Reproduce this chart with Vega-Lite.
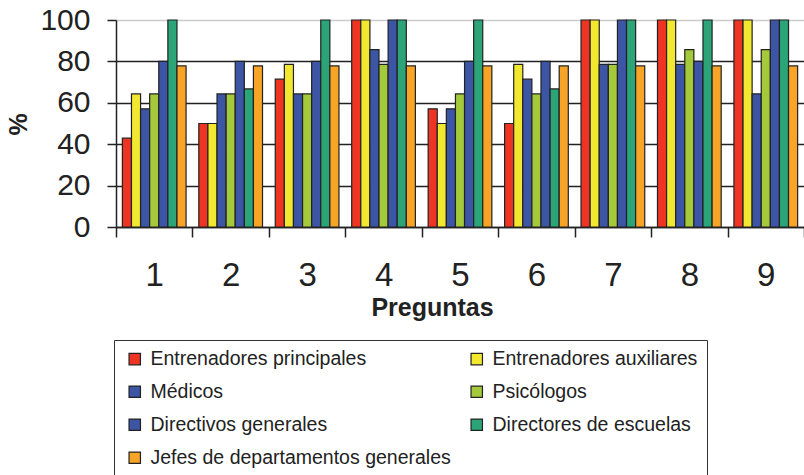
{
  "$schema": "https://vega.github.io/schema/vega-lite/v6.json",
  "width": 688,
  "height": 207,
  "autosize": {"type": "none"},
  "padding": {"left": 116, "top": 20, "right": 0, "bottom": 248},
  "background": "white",
  "config": {
    "view": {"stroke": null},
    "font": "Liberation Sans"
  },
  "data": {
    "values": [
      {"q": "1", "g": "Entrenadores principales", "v": 42.9},
      {"q": "1", "g": "Entrenadores auxiliares", "v": 64.3},
      {"q": "1", "g": "Médicos", "v": 57.1},
      {"q": "1", "g": "Psicólogos", "v": 64.3},
      {"q": "1", "g": "Directivos generales", "v": 80},
      {"q": "1", "g": "Directores de escuelas", "v": 100},
      {"q": "1", "g": "Jefes de departamentos generales", "v": 77.8},
      {"q": "2", "g": "Entrenadores principales", "v": 50},
      {"q": "2", "g": "Entrenadores auxiliares", "v": 50},
      {"q": "2", "g": "Médicos", "v": 64.3},
      {"q": "2", "g": "Psicólogos", "v": 64.3},
      {"q": "2", "g": "Directivos generales", "v": 80},
      {"q": "2", "g": "Directores de escuelas", "v": 66.7},
      {"q": "2", "g": "Jefes de departamentos generales", "v": 77.8},
      {"q": "3", "g": "Entrenadores principales", "v": 71.4},
      {"q": "3", "g": "Entrenadores auxiliares", "v": 78.6},
      {"q": "3", "g": "Médicos", "v": 64.3},
      {"q": "3", "g": "Psicólogos", "v": 64.3},
      {"q": "3", "g": "Directivos generales", "v": 80},
      {"q": "3", "g": "Directores de escuelas", "v": 100},
      {"q": "3", "g": "Jefes de departamentos generales", "v": 77.8},
      {"q": "4", "g": "Entrenadores principales", "v": 100},
      {"q": "4", "g": "Entrenadores auxiliares", "v": 100},
      {"q": "4", "g": "Médicos", "v": 85.7},
      {"q": "4", "g": "Psicólogos", "v": 78.6},
      {"q": "4", "g": "Directivos generales", "v": 100},
      {"q": "4", "g": "Directores de escuelas", "v": 100},
      {"q": "4", "g": "Jefes de departamentos generales", "v": 77.8},
      {"q": "5", "g": "Entrenadores principales", "v": 57.1},
      {"q": "5", "g": "Entrenadores auxiliares", "v": 50},
      {"q": "5", "g": "Médicos", "v": 57.1},
      {"q": "5", "g": "Psicólogos", "v": 64.3},
      {"q": "5", "g": "Directivos generales", "v": 80},
      {"q": "5", "g": "Directores de escuelas", "v": 100},
      {"q": "5", "g": "Jefes de departamentos generales", "v": 77.8},
      {"q": "6", "g": "Entrenadores principales", "v": 50},
      {"q": "6", "g": "Entrenadores auxiliares", "v": 78.6},
      {"q": "6", "g": "Médicos", "v": 71.4},
      {"q": "6", "g": "Psicólogos", "v": 64.3},
      {"q": "6", "g": "Directivos generales", "v": 80},
      {"q": "6", "g": "Directores de escuelas", "v": 66.7},
      {"q": "6", "g": "Jefes de departamentos generales", "v": 77.8},
      {"q": "7", "g": "Entrenadores principales", "v": 100},
      {"q": "7", "g": "Entrenadores auxiliares", "v": 100},
      {"q": "7", "g": "Médicos", "v": 78.6},
      {"q": "7", "g": "Psicólogos", "v": 78.6},
      {"q": "7", "g": "Directivos generales", "v": 100},
      {"q": "7", "g": "Directores de escuelas", "v": 100},
      {"q": "7", "g": "Jefes de departamentos generales", "v": 77.8},
      {"q": "8", "g": "Entrenadores principales", "v": 100},
      {"q": "8", "g": "Entrenadores auxiliares", "v": 100},
      {"q": "8", "g": "Médicos", "v": 78.6},
      {"q": "8", "g": "Psicólogos", "v": 85.7},
      {"q": "8", "g": "Directivos generales", "v": 80},
      {"q": "8", "g": "Directores de escuelas", "v": 100},
      {"q": "8", "g": "Jefes de departamentos generales", "v": 77.8},
      {"q": "9", "g": "Entrenadores principales", "v": 100},
      {"q": "9", "g": "Entrenadores auxiliares", "v": 100},
      {"q": "9", "g": "Médicos", "v": 64.3},
      {"q": "9", "g": "Psicólogos", "v": 85.7},
      {"q": "9", "g": "Directivos generales", "v": 100},
      {"q": "9", "g": "Directores de escuelas", "v": 100},
      {"q": "9", "g": "Jefes de departamentos generales", "v": 77.8}
    ]
  },
  "mark": {"type": "bar", "stroke": "#222222", "strokeWidth": 1.2},
  "encoding": {
    "x": {
      "field": "q",
      "type": "nominal",
      "scale": {"paddingInner": 0, "paddingOuter": 0},
      "axis": {
        "title": "Preguntas",
        "titleFontSize": 25,
        "titleFontWeight": "bold",
        "titleColor": "#222222",
        "titleBaseline": "alphabetic",
        "titleX": 316,
        "titleY": 88,
        "labelAngle": 0,
        "labelFontSize": 33,
        "labelColor": "#222222",
        "labelPadding": 22,
        "tickBand": "extent",
        "tickSize": 10,
        "tickColor": "#222222",
        "tickWidth": 1.5,
        "domainColor": "#222222",
        "domainWidth": 1.5
      }
    },
    "xOffset": {
      "field": "g",
      "type": "nominal",
      "sort": ["Entrenadores principales", "Entrenadores auxiliares", "Médicos", "Psicólogos", "Directivos generales", "Directores de escuelas", "Jefes de departamentos generales"],
      "scale": {"paddingInner": 0, "paddingOuter": 0.7}
    },
    "y": {
      "field": "v",
      "type": "quantitative",
      "scale": {"domain": [0, 100], "nice": false},
      "axis": {
        "title": "%",
        "titleFontSize": 25,
        "titleFontWeight": "bold",
        "titleColor": "#222222",
        "titleAngle": -90,
        "titleAlign": "center",
        "titleBaseline": "middle",
        "titleX": -98,
        "titleY": 104,
        "values": [0, 20, 40, 60, 80, 100],
        "labelFontSize": 30,
        "labelColor": "#222222",
        "labelPadding": 17,
        "tickSize": 9,
        "tickColor": "#222222",
        "tickWidth": 1.5,
        "domainColor": "#222222",
        "domainWidth": 1.5,
        "grid": true,
        "gridColor": {"condition": {"test": "datum.value == 100", "value": "#cccccc"}, "value": "#222222"},
        "gridWidth": 1.5
      }
    },
    "color": {
      "field": "g",
      "type": "nominal",
      "scale": {
        "domain": ["Entrenadores principales", "Entrenadores auxiliares", "Médicos", "Psicólogos", "Directivos generales", "Directores de escuelas", "Jefes de departamentos generales"],
        "range": ["#EE3524", "#F2E830", "#3C55A5", "#A4C93A", "#3C55A5", "#2BA578", "#F8A427"]
      },
      "legend": {
        "title": null,
        "orient": "none",
        "legendX": -2,
        "legendY": 320,
        "values": ["Entrenadores principales", "Médicos", "Directivos generales", "Jefes de departamentos generales", "Entrenadores auxiliares", "Psicólogos", "Directores de escuelas"],
        "columns": 2,
        "columnPadding": 14,
        "rowPadding": 12,
        "padding": 9,
        "symbolOffset": 2,
        "strokeColor": "#333333",
        "symbolType": "square",
        "symbolSize": 130,
        "symbolStrokeColor": "#222222",
        "symbolStrokeWidth": 1.2,
        "symbolOpacity": 1,
        "labelFont": "Liberation Sans",
        "labelFontSize": 19.5,
        "labelColor": "#222222",
        "labelOffset": 6,
        "labelLimit": 400
      }
    }
  }
}
